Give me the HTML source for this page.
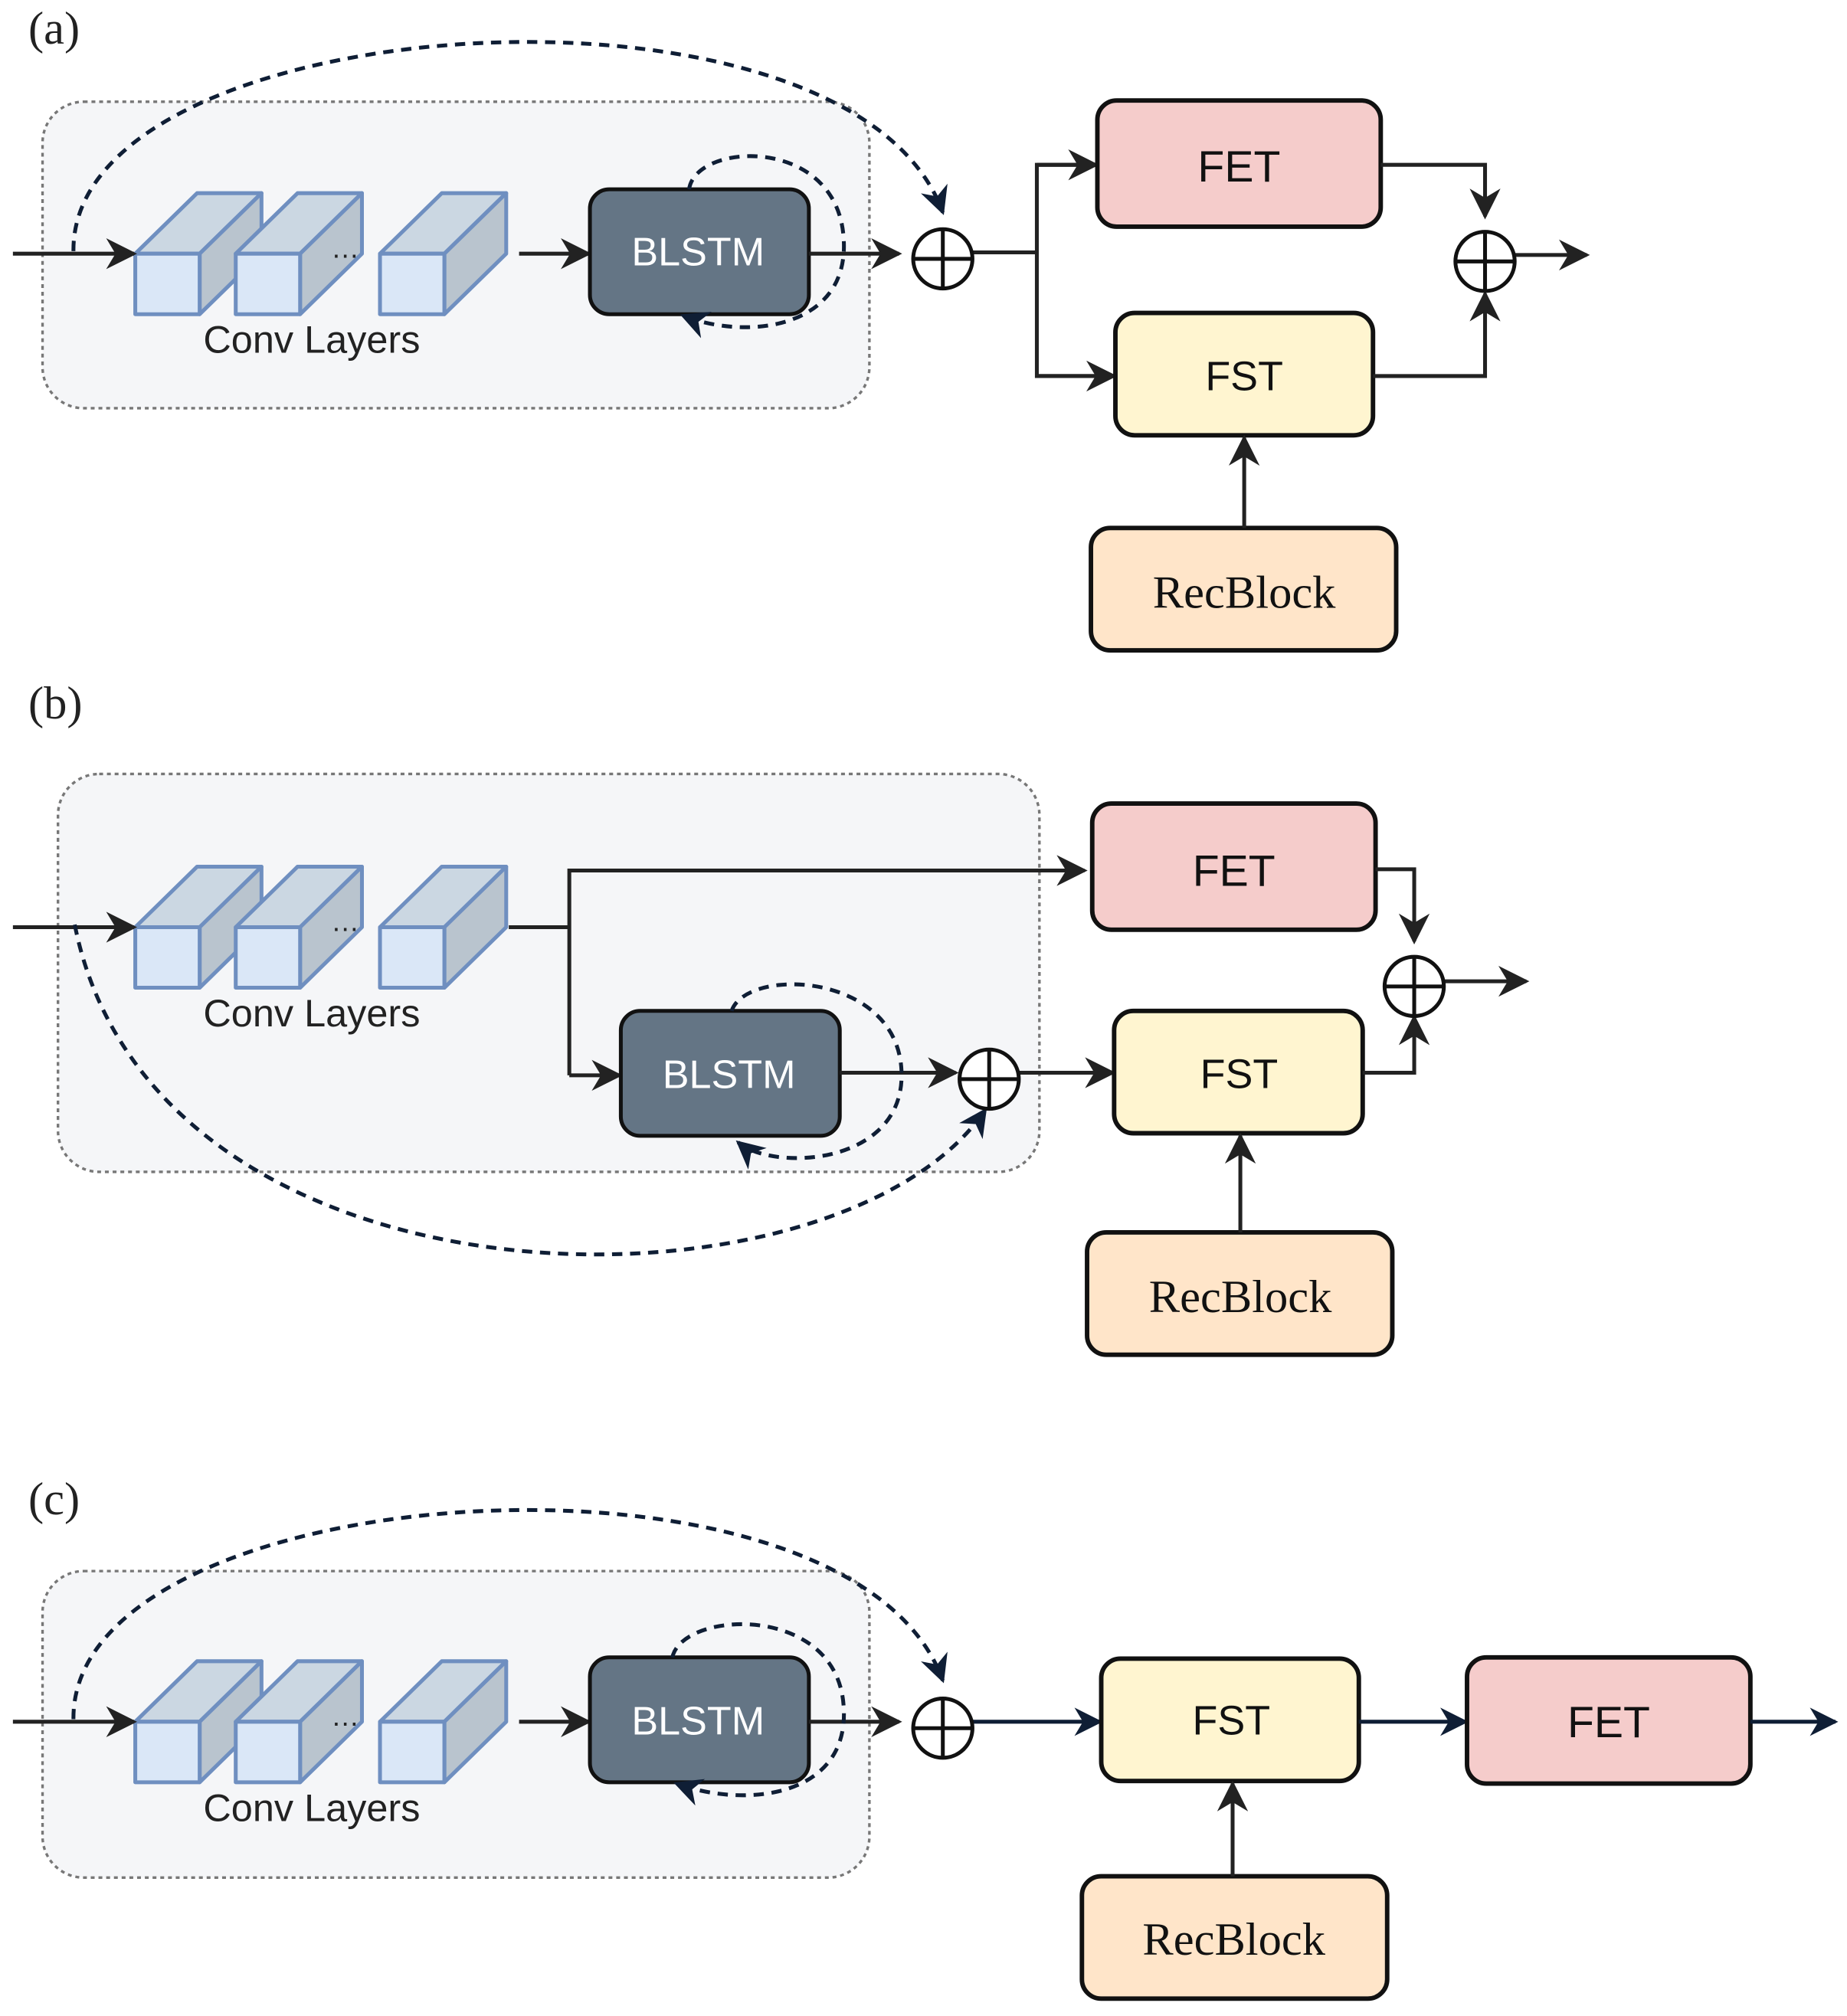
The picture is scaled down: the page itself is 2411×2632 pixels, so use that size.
<!DOCTYPE html>
<html><head><meta charset="utf-8"><style>html,body{margin:0;padding:0;background:#fff}svg{display:block}</style></head>
<body>
<svg width="2411" height="2632" viewBox="0 0 1434 1565.5" xmlns="http://www.w3.org/2000/svg" font-family="Liberation Sans, sans-serif">
<defs>
<marker id="a" viewBox="0 0 10 10" refX="9" refY="5" markerWidth="24" markerHeight="24" orient="auto" markerUnits="userSpaceOnUse"><path d="M0,0 L10,5 L0,10 L3,5 Z" fill="#222"/></marker>
<marker id="an" viewBox="0 0 10 10" refX="9" refY="5" markerWidth="22" markerHeight="22" orient="auto" markerUnits="userSpaceOnUse"><path d="M0,0 L10,5 L0,10 L3,5 Z" fill="#0f1e35"/></marker>
<g id="cube" stroke="#6f8fc0" stroke-width="3" stroke-linejoin="round">
<path d="M0,0 L48,-47 L98,-47 L50,0 Z" fill="#cbd7e2"/>
<path d="M50,0 L98,-47 L98,0 L50,47 Z" fill="#b9c4ce"/>
<rect x="0" y="0" width="50" height="47" fill="#dae7f7"/>
</g>
<g id="conv">
<use href="#cube" x="105" y="0"/>
<use href="#cube" x="183" y="0"/>
<text x="257" y="3" font-size="22" fill="#222">…</text>
<use href="#cube" x="295" y="0"/>
<text x="242" y="77" font-size="30" fill="#222" text-anchor="middle">Conv Layers</text>
</g>
<g id="plus" fill="none" stroke="#111" stroke-width="3"><circle cx="0" cy="0" r="23" fill="#fff"/><line x1="-23" y1="0" x2="23" y2="0"/><line x1="0" y1="-23" x2="0" y2="23"/></g>
</defs>
<!-- (a) -->
<rect x="33" y="79" width="642" height="238" rx="32" fill="#f5f6f8" stroke="#777" stroke-width="2" stroke-dasharray="3,3"/>
<text x="22" y="34" font-family="Liberation Serif, serif" font-size="36" fill="#222">(a)</text>
<use href="#conv" x="0" y="197"/>
<g fill="none" stroke="#222" stroke-width="3">
<line x1="10" y1="197" x2="104" y2="197" marker-end="url(#a)"/>
<line x1="403" y1="197" x2="457" y2="197" marker-end="url(#a)"/>
<rect x="458" y="147" width="170" height="97" rx="15" fill="#647585" stroke="#111"/>
<line x1="628" y1="197" x2="698" y2="197" marker-end="url(#a)"/>
<line x1="755" y1="196" x2="805" y2="196"/>
<polyline points="852,128 805,128 805,292 865,292" />
<line x1="805" y1="128" x2="851" y2="128" marker-end="url(#a)"/>
<line x1="805" y1="292" x2="865" y2="292" marker-end="url(#a)"/>
<rect x="852" y="78" width="220" height="98" rx="15" fill="#f5cccb" stroke="#111" stroke-width="3.5"/>
<rect x="866" y="243" width="200" height="95" rx="15" fill="#fff5d0" stroke="#111" stroke-width="3.5"/>
<rect x="847" y="410" width="237" height="95" rx="15" fill="#ffe5c9" stroke="#111" stroke-width="3.5"/>
<line x1="966" y1="410" x2="966" y2="340" marker-end="url(#a)"/>
<polyline points="1072,128 1153,128 1153,168" marker-end="url(#a)"/>
<polyline points="1066,292 1153,292 1153,228" marker-end="url(#a)"/>
<line x1="1176" y1="198" x2="1232" y2="198" marker-end="url(#a)"/>
<path d="M57,195 C55,5 660,-35 732,165" stroke="#0f1e35" stroke-dasharray="8,6" marker-end="url(#an)"/>
<path d="M535,147 C540,110 650,105 655,185 C660,255 580,265 530,245" stroke="#0f1e35" stroke-dasharray="8,6" marker-end="url(#an)"/>
</g>
<use href="#plus" x="732" y="201"/>
<use href="#plus" x="1153" y="203"/>
<text x="542" y="206" font-size="31" fill="#fff" text-anchor="middle">BLSTM</text>
<text x="962" y="141" font-size="34" fill="#111" text-anchor="middle">FET</text>
<text x="966" y="303" font-size="32" fill="#111" text-anchor="middle">FST</text>
<text x="966" y="472" font-family="Liberation Serif, serif" font-size="36" fill="#111" text-anchor="middle">RecBlock</text>

<!-- (b) -->
<rect x="45" y="601" width="762" height="309" rx="32" fill="#f5f6f8" stroke="#777" stroke-width="2" stroke-dasharray="3,3"/>
<text x="22" y="558" font-family="Liberation Serif, serif" font-size="36" fill="#222">(b)</text>
<use href="#conv" x="0" y="720"/>
<g fill="none" stroke="#222" stroke-width="3">
<line x1="10" y1="720" x2="104" y2="720" marker-end="url(#a)"/>
<polyline points="395,720 442,720"/>
<polyline points="442,835 442,676 842,676" marker-end="url(#a)"/>
<line x1="442" y1="835" x2="481" y2="835" marker-end="url(#a)"/>
<rect x="482" y="785" width="170" height="97" rx="15" fill="#647585" stroke="#111"/>
<line x1="652" y1="833" x2="742" y2="833" marker-end="url(#a)"/>
<line x1="791" y1="833" x2="864" y2="833" marker-end="url(#a)"/>
<rect x="848" y="624" width="220" height="98" rx="15" fill="#f5cccb" stroke="#111" stroke-width="3.5"/>
<rect x="865" y="785" width="193" height="95" rx="15" fill="#fff5d0" stroke="#111" stroke-width="3.5"/>
<rect x="844" y="957" width="237" height="95" rx="15" fill="#ffe5c9" stroke="#111" stroke-width="3.5"/>
<line x1="963" y1="957" x2="963" y2="882" marker-end="url(#a)"/>
<polyline points="1068,675 1098,675 1098,731" marker-end="url(#a)"/>
<polyline points="1058,833 1098,833 1098,790" marker-end="url(#a)"/>
<line x1="1121" y1="762" x2="1185" y2="762" marker-end="url(#a)"/>
<path d="M58,718 C120,1030 650,1030 765,862" stroke="#0f1e35" stroke-dasharray="8,6" marker-end="url(#an)"/>
<path d="M568,785 C580,750 700,755 700,835 C700,905 600,910 573,887" stroke="#0f1e35" stroke-dasharray="8,6" marker-end="url(#an)"/>
</g>
<use href="#plus" x="768" y="838"/>
<use href="#plus" x="1098" y="766"/>
<text x="566" y="845" font-size="31" fill="#fff" text-anchor="middle">BLSTM</text>
<text x="958" y="688" font-size="34" fill="#111" text-anchor="middle">FET</text>
<text x="962" y="845" font-size="32" fill="#111" text-anchor="middle">FST</text>
<text x="963" y="1019" font-family="Liberation Serif, serif" font-size="36" fill="#111" text-anchor="middle">RecBlock</text>

<!-- (c) -->
<rect x="33" y="1220" width="642" height="238" rx="32" fill="#f5f6f8" stroke="#777" stroke-width="2" stroke-dasharray="3,3"/>
<text x="22" y="1176" font-family="Liberation Serif, serif" font-size="36" fill="#222">(c)</text>
<use href="#conv" x="0" y="1337"/>
<g fill="none" stroke="#222" stroke-width="3">
<line x1="10" y1="1337" x2="104" y2="1337" marker-end="url(#a)"/>
<line x1="403" y1="1337" x2="457" y2="1337" marker-end="url(#a)"/>
<rect x="458" y="1287" width="170" height="97" rx="15" fill="#647585" stroke="#111"/>
<line x1="628" y1="1337" x2="698" y2="1337" marker-end="url(#a)"/>
<line x1="755" y1="1337" x2="854" y2="1337" stroke="#0f1e35" marker-end="url(#an)"/>
<rect x="855" y="1288" width="200" height="95" rx="15" fill="#fff5d0" stroke="#111" stroke-width="3.5"/>
<line x1="1055" y1="1337" x2="1138" y2="1337" stroke="#0f1e35" marker-end="url(#an)"/>
<rect x="1139" y="1287" width="220" height="98" rx="15" fill="#f5cccb" stroke="#111" stroke-width="3.5"/>
<line x1="1359" y1="1337" x2="1425" y2="1337" stroke="#0f1e35" marker-end="url(#an)"/>
<rect x="840" y="1457" width="237" height="95" rx="15" fill="#ffe5c9" stroke="#111" stroke-width="3.5"/>
<line x1="957" y1="1457" x2="957" y2="1385" marker-end="url(#a)"/>
<path d="M57,1335 C55,1145 660,1105 732,1305" stroke="#0f1e35" stroke-dasharray="8,6" marker-end="url(#an)"/>
<path d="M522,1287 C530,1250 650,1245 655,1325 C660,1395 580,1405 525,1385" stroke="#0f1e35" stroke-dasharray="8,6" marker-end="url(#an)"/>
</g>
<use href="#plus" x="732" y="1342"/>
<text x="542" y="1347" font-size="31" fill="#fff" text-anchor="middle">BLSTM</text>
<text x="956" y="1347" font-size="32" fill="#111" text-anchor="middle">FST</text>
<text x="1249" y="1349" font-size="34" fill="#111" text-anchor="middle">FET</text>
<text x="958" y="1518" font-family="Liberation Serif, serif" font-size="36" fill="#111" text-anchor="middle">RecBlock</text>
</svg>
</body></html>
